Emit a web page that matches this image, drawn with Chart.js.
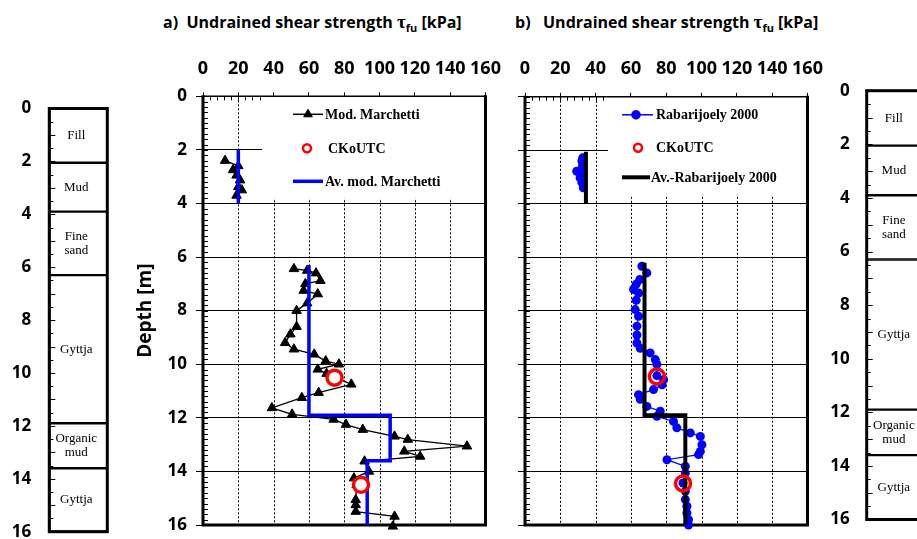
<!DOCTYPE html>
<html>
<head>
<meta charset="utf-8">
<script src="https://cdn.jsdelivr.net/npm/chart.js@4.4.1/dist/chart.umd.min.js"></script>
<style>
  html, body { margin: 0; padding: 0; background: #fff; }
  body { width: 917px; height: 539px; overflow: hidden; position: relative; }
  canvas { position: absolute; left: 0; top: 0; }
  .title { position: absolute; top: 12px; font: bold 16px 'Open Sans', sans-serif; line-height: 1; white-space: nowrap; color: #000; }
  .tau { font-family: 'Liberation Serif', serif; font-size: 19px; }
  .sub { font-size: 11px; position: relative; top: 4px; }
</style>
</head>
<body>
<div class="title" style="left:163px">a)&nbsp; Undrained shear strength <span class="tau">τ</span><span class="sub">fu</span> [kPa]</div>
<div class="title" style="left:515px">b)&nbsp;&nbsp; Undrained shear strength <span class="tau">τ</span><span class="sub">fu</span> [kPa]</div>
<canvas id="soilLeft" width="917" height="539"></canvas>
<canvas id="panelA" width="917" height="539"></canvas>
<canvas id="panelB" width="917" height="539"></canvas>
<canvas id="soilRight" width="1000" height="539"></canvas>
<script>
// axis ticks
const strengthTicks = [0, 20, 40, 60, 80, 100, 120, 140, 160];
const depthTicks = [0, 2, 4, 6, 8, 10, 12, 14, 16];

// soil profile
const soilNames = ['Fill', 'Mud', 'Fine\nsand', 'Gyttja', 'Organic\nmud', 'Gyttja'];
const soilTop = [0, 2.05, 3.9, 6.3, 11.9, 13.6];
const soilBottom = [2.05, 3.9, 6.3, 11.9, 13.6, 16];

// a) modified Marchetti (null = gap)
const marchettiDepth = [2.4, 2.6, 2.75, 2.95, 3.13, 3.38, 3.5, 3.7, null,
  6.44, 6.5, 6.6, 6.88, 7.0, 7.25, 7.38, 7.72, 8.0, 8.6,
  8.88, 9.2, 9.44, 9.63, 9.88, 10.0, 10.19, 10.35, 10.75, 11.06,
  11.25, 11.63, 11.87, 12.06, 12.25, 12.44, 12.69, 12.81, 13.06, 13.25,
  13.44, 13.62, 14.0, 14.25, 14.5, 15.06, 15.25, 15.5, 15.68, 16.05];
const marchettiKpa = [12.5, 20, 17, 19, 21, 20, 22, 19, null,
  51.5, 59, 64, 66.5, 58, 57, 65, 59, 53, 53,
  49.5, 46.5, 51.5, 63, 69.5, 77, 65, 70, 84, 65.5,
  56, 39, 50.5, 74, 81, 90.5, 108.5, 116, 149.5, 114,
  123, 91.5, 94, 85.5, 87, 86.5, 86.5, 86.5, 108.5, 107.5];
const avgMarchettiKpa = [20, 20, null, 60, 60, 106, 106, 93, 93];
const avgMarchettiDepth = [2.0, 4.0, null, 6.3, 11.9, 11.9, 13.6, 13.6, 16];
const ckoutcKpaA = [74.5, 89.5];
const ckoutcDepthA = [10.5, 14.5];

// b) Rabarijoely 2000
const rabDepth = [2.28, 2.4, 2.6, 2.78, 2.84, 3.03, 3.2, 3.4, null,
  6.33, 6.58, 6.83, 7.0, 7.2, 7.33, 7.6, 7.95, 8.2, 8.57,
  8.9, 9.2, 9.4, 9.57, 9.82, 10.0, 10.42, 10.57, 10.76, 10.94,
  11.13, 11.3, 11.57, 11.75, 11.94, 12.13, 12.37, 12.56, 12.69, 13.0,
  13.25, 13.37, 13.56, 13.81, 14.06, 14.43, 14.74, 15.05, 15.3, 15.55,
  15.8, 16.0];
const rabKpa = [32.7, 32.2, 32.5, 29.3, 32.7, 31.2, 32.2, 33, null,
  66.2, 69, 65, 63, 61.5, 64.3, 63, 62.4, 64.3, 63.4,
  63.4, 63.4, 65.3, 70.9, 73.8, 74.7, 74.7, 78.5, 77.6, 72.8,
  64.3, 65.3, 69, 76.6, 74.7, 84.1, 86, 93.6, 99.3, 100.2,
  99.3, 98.3, 80.4, 90.8, 90.8, 89.5, 90.8, 90.8, 91.7, 91.7,
  92.6, 92.6];
const avgRabKpa = [34.5, 34.5, null, 67.7, 67.7, 90.8, 90.8];
const avgRabDepth = [2.05, 4.0, null, 6.2, 11.9, 11.9, 16];
const ckoutcKpaB = [74.7, 89.5];
const ckoutcDepthB = [10.45, 14.45];

const pts = (xs, ys) => xs.map((x, i) => ({ x: x, y: ys[i] }));
const boldSans = size => ({ family: 'Open Sans', weight: 'bold', size: size });

function marker(ctx, style, r, x, y) {
  if (Chart.helpers && Chart.helpers.drawPoint) {
    Chart.helpers.drawPoint(ctx, { pointStyle: style, radius: r, borderWidth: ctx.lineWidth, rotation: 0 }, x, y);
    return;
  }
  ctx.beginPath();
  if (style === 'triangle') {
    ctx.moveTo(x, y - r); ctx.lineTo(x + r * 0.866, y + r / 2); ctx.lineTo(x - r * 0.866, y + r / 2);
  } else {
    ctx.arc(x, y, r, 0, Math.PI * 2);
  }
  ctx.closePath(); ctx.fill(); ctx.stroke();
}

// dotted verticals, minor ticks, legend box, frame and legend of the strength panels
const panelDecor = {
  id: 'panelDecor',
  beforeDatasetsDraw(chart, args, o) {
    const { ctx, chartArea: a, scales: { x, y } } = chart;
    ctx.save();
    ctx.strokeStyle = '#000';
    ctx.lineWidth = 1;

    ctx.setLineDash([2, 2]);
    ctx.beginPath();
    x.ticks.forEach(t => {
      const px = Math.round(x.getPixelForValue(t.value)) + 0.5;
      ctx.moveTo(px, a.top); ctx.lineTo(px, a.bottom);
    });
    ctx.stroke();
    ctx.setLineDash([]);

    ctx.beginPath();
    for (let i = 0; i <= 80; i++) {
      const py = Math.round(y.getPixelForValue(i * 0.2)) + 0.5;
      ctx.moveTo(a.left, py); ctx.lineTo(a.left + 5, py);
    }
    for (let i = 0; i <= 40; i++) {
      const px = Math.round(x.getPixelForValue(i * 4)) + 0.5;
      ctx.moveTo(px, a.top); ctx.lineTo(px, a.top + 4);
    }
    ctx.stroke();

    ctx.fillStyle = '#fff';
    ctx.fillRect(a.left + o.boxLeft, a.top, a.right - a.left - o.boxLeft, o.boxBottom);

    ctx.lineWidth = 1.5;
    ctx.beginPath(); ctx.moveTo(a.left, a.top); ctx.lineTo(a.right, a.top); ctx.stroke();
    ctx.lineWidth = 3;
    ctx.beginPath();
    ctx.moveTo(a.left, a.top - 1); ctx.lineTo(a.left, a.bottom);
    ctx.lineTo(a.right, a.bottom); ctx.lineTo(a.right, a.top - 1);
    ctx.stroke();
    ctx.restore();
  },
  afterDatasetsDraw(chart, args, o) {
    const { ctx, chartArea: a } = chart;
    ctx.save();
    ctx.font = 'bold 14px "Liberation Serif"';
    ctx.textBaseline = 'middle';
    ctx.textAlign = 'left';
    o.items.forEach(it => {
      const yy = a.top + it.y;
      if (it.line) {
        ctx.strokeStyle = it.line; ctx.lineWidth = it.lineWidth;
        ctx.beginPath(); ctx.moveTo(a.left + it.x0, yy); ctx.lineTo(a.left + it.x1, yy); ctx.stroke();
      }
      if (it.point) {
        ctx.fillStyle = it.fill; ctx.strokeStyle = it.stroke; ctx.lineWidth = it.pointBorder;
        marker(ctx, it.point, it.radius, a.left + it.px, yy);
      }
      ctx.fillStyle = '#000';
      ctx.fillText(it.text, a.left + it.tx, yy + 1);
    });
    ctx.restore();
  }
};

// soil column frame, ticks and layer names
const soilDecor = {
  id: 'soilDecor',
  afterDatasetsDraw(chart) {
    const { ctx, chartArea: a, scales: { y } } = chart;
    ctx.save();
    ctx.strokeStyle = '#000';
    ctx.lineWidth = 1.2;
    ctx.beginPath();
    for (let i = 1; i < 32; i++) {
      const py = Math.round(y.getPixelForValue(i * 0.5)) + 0.5;
      ctx.moveTo(a.left, py); ctx.lineTo(a.left + (i % 2 ? 4 : 6), py);
    }
    ctx.stroke();
    ctx.lineWidth = 3;
    ctx.strokeRect(a.left, a.top, a.right - a.left, a.bottom - a.top);
    ctx.fillStyle = '#000';
    ctx.font = '13px "Liberation Serif"';
    ctx.textAlign = 'center';
    ctx.textBaseline = 'middle';
    chart.data.datasets.forEach((ds, i) => {
      const bar = chart.getDatasetMeta(i).data[0];
      const cy = (bar.y + bar.base) / 2;
      const lines = ds.label.split('\n');
      lines.forEach((t, k) => ctx.fillText(t, bar.x - 2, cy + (k - (lines.length - 1) / 2) * 14));
    });
    ctx.restore();
  }
};

function soilChart(id, area) {
  const canvas = document.getElementById(id);
  return new Chart(canvas, {
    type: 'bar',
    data: {
      labels: ['soil'],
      datasets: soilNames.map((n, i) => ({
        label: n,
        data: [[soilTop[i], soilBottom[i]]],
        backgroundColor: '#fff',
        borderColor: '#000',
        borderWidth: 1.5,
        borderSkipped: false,
        barPercentage: 1,
        categoryPercentage: 1,
        grouped: false
      }))
    },
    options: {
      responsive: false,
      animation: false,
      events: [],
      layout: { padding: { left: area.left - 60, top: area.top, right: canvas.width - area.right, bottom: 539 - area.bottom } },
      scales: {
        x: { display: false },
        y: {
          reverse: true, min: 0, max: 16,
          afterBuildTicks: s => { s.ticks = depthTicks.map(v => ({ value: v })); },
          afterFit: s => { s.width = 60; s.paddingTop = 0; s.paddingBottom = 0; },
          ticks: { font: boldSans(17), color: '#000', padding: area.gap, autoSkip: false },
          grid: { display: false, drawTicks: false },
          border: { display: false }
        }
      },
      plugins: { legend: { display: false }, tooltip: { enabled: false } }
    },
    plugins: [soilDecor]
  });
}

function panelChart(id, area, datasets, showDepth, decor) {
  return new Chart(document.getElementById(id), {
    type: 'scatter',
    data: { datasets: datasets },
    options: {
      responsive: false,
      animation: false,
      events: [],
      layout: { padding: { left: area.left - 73, top: area.top - 41, right: 917 - area.right, bottom: 539 - area.bottom } },
      scales: {
        x: {
          type: 'linear', position: 'top', min: 0, max: 160,
          afterBuildTicks: s => { s.ticks = strengthTicks.map(v => ({ value: v })); },
          afterFit: s => { s.height = 41; s.paddingLeft = 0; s.paddingRight = 0; },
          ticks: { font: boldSans(18), color: '#000', padding: 13, maxRotation: 0, autoSkip: false },
          grid: { drawOnChartArea: false, color: '#000', lineWidth: 1, tickLength: 4, tickColor: '#000' },
          border: { display: false }
        },
        y: {
          type: 'linear', reverse: true, min: 0, max: 16,
          afterBuildTicks: s => { s.ticks = depthTicks.map(v => ({ value: v })); },
          afterFit: s => { s.width = 73; s.paddingTop = 0; s.paddingBottom = 0; },
          ticks: { display: showDepth, font: boldSans(17), color: '#000', padding: 9, autoSkip: false },
          grid: { color: '#000', lineWidth: 1, tickLength: 7, tickColor: '#000' },
          border: { display: false },
          title: { display: showDepth, text: 'Depth [m]', font: boldSans(19), color: '#000', padding: { top: 4, bottom: 0 } }
        }
      },
      plugins: { legend: { display: false }, tooltip: { enabled: false }, panelDecor: decor }
    },
    plugins: [panelDecor]
  });
}

soilChart('soilLeft', { left: 49.3, right: 107.3, top: 108.5, bottom: 531.7, gap: 18 });
soilChart('soilRight', { left: 866.7, right: 925, top: 90.7, bottom: 519.5, gap: 17 });

panelChart('panelA', { left: 203, right: 485.5, top: 96.3, bottom: 525 }, [
  { label: 'CKoUTC', data: pts(ckoutcKpaA, ckoutcDepthA), showLine: false, pointStyle: 'circle',
    pointRadius: 7.5, pointBorderWidth: 3.5, pointBorderColor: '#ff0000', pointBackgroundColor: '#fff', order: 0, clip: false },
  { label: 'Av. mod. Marchetti', data: pts(avgMarchettiKpa, avgMarchettiDepth), showLine: true,
    borderColor: '#0000ff', borderWidth: 3.5, pointRadius: 0, order: 1, clip: false },
  { label: 'Mod. Marchetti', data: pts(marchettiKpa, marchettiDepth), showLine: true,
    borderColor: '#000', borderWidth: 1.3, pointStyle: 'triangle', pointRadius: 5.5,
    pointBackgroundColor: '#000', pointBorderColor: '#000', pointBorderWidth: 1, order: 2, clip: false }
], true, {
  boxLeft: 59, boxBottom: 102,
  items: [
    { line: '#000', lineWidth: 1.5, x0: 90, x1: 120, y: 18, point: 'triangle', radius: 5, fill: '#000', stroke: '#000', pointBorder: 1, px: 105, tx: 122, text: 'Mod. Marchetti' },
    { point: 'circle', radius: 4, fill: '#fff', stroke: '#ff0000', pointBorder: 2.5, px: 104, y: 52, tx: 125, text: 'CKoUTC' },
    { line: '#0000ff', lineWidth: 3.5, x0: 90, x1: 120, y: 85, tx: 122, text: 'Av. mod. Marchetti' }
  ]
});

panelChart('panelB', { left: 525, right: 807.5, top: 96.8, bottom: 525 }, [
  { label: 'CKoUTC', data: pts(ckoutcKpaB, ckoutcDepthB), showLine: false, pointStyle: 'circle',
    pointRadius: 7.5, pointBorderWidth: 3.5, pointBorderColor: '#ff0000', pointBackgroundColor: 'rgba(255,255,255,0)', order: 0, clip: false },
  { label: 'Av.-Rabarijoely 2000', data: pts(avgRabKpa, avgRabDepth), showLine: true,
    borderColor: '#000', borderWidth: 4, pointRadius: 0, order: 1, clip: false },
  { label: 'Rabarijoely 2000', data: pts(rabKpa, rabDepth), showLine: true,
    borderColor: '#0000ff', borderWidth: 1.3, pointStyle: 'circle', pointRadius: 4.5,
    pointBackgroundColor: '#0000ff', pointBorderColor: '#0000ff', pointBorderWidth: 0, order: 2, clip: false }
], false, {
  boxLeft: 83, boxBottom: 98,
  items: [
    { line: '#0000ff', lineWidth: 1.5, x0: 97, x1: 128, y: 18, point: 'circle', radius: 4.5, fill: '#0000ff', stroke: '#0000ff', pointBorder: 0.5, px: 111, tx: 131, text: 'Rabarijoely 2000' },
    { point: 'circle', radius: 4, fill: '#fff', stroke: '#ff0000', pointBorder: 2.5, px: 113, y: 51, tx: 131, text: 'CKoUTC' },
    { line: '#000', lineWidth: 4, x0: 97, x1: 125, y: 80.5, tx: 126, text: 'Av.-Rabarijoely 2000' }
  ]
});
</script>
</body>
</html>
